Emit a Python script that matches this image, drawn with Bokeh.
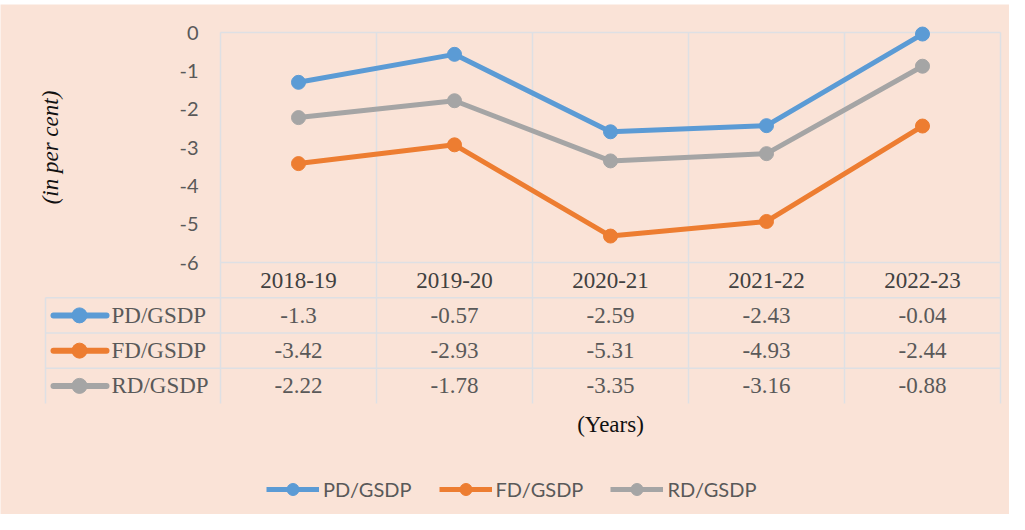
import numpy as np
from bokeh.plotting import figure
from bokeh.models import Range1d, Legend, LegendItem, ColumnDataSource
from bokeh.core.properties import value
from bokeh.embed import file_html
from bokeh.resources import INLINE

# ---- data ----
years = ["2018-19", "2019-20", "2020-21", "2021-22", "2022-23"]
series_names = ["PD/GSDP", "FD/GSDP", "RD/GSDP"]
pd_gsdp = [-1.3, -0.57, -2.59, -2.43, -0.04]
fd_gsdp = [-3.42, -2.93, -5.31, -4.93, -2.44]
rd_gsdp = [-2.22, -1.78, -3.35, -3.16, -0.88]
y_ticks = [0, -1, -2, -3, -4, -5, -6]
y_tick_labels = ["0", "-1", "-2", "-3", "-4", "-5", "-6"]

colors = ["#5B9BD5", "#ED7D31", "#A5A5A5"]
series = [pd_gsdp, fd_gsdp, rd_gsdp]

BG = "#FAE3D7"
GRID = "#DEE0E4"
TXT = "#595959"
SERIF = "Liberation Serif"
SANS = "Lato"

# ---- layout geometry (page pixels) ----
W, H = 1009, 514          # figure size, placed at page (8, 8)
TOP_WHITE = 4             # white strip above the peach area
PAGE_X0, PAGE_Y0 = 8, 8
PLOT_LEFT, PLOT_TOP, PLOT_BOTTOM = 228, 40, 270
PX_PER_CAT = 156.0
PX_PER_UNIT = (PLOT_BOTTOM - PLOT_TOP) / 6.0
ROW_PX = 35.25

frame_left = PAGE_X0
frame_right = PAGE_X0 + W
frame_top = PAGE_Y0 + TOP_WHITE
frame_bottom = PAGE_Y0 + H

def px(page_x):
    return (page_x - PLOT_LEFT) / PX_PER_CAT

x_range = Range1d(px(frame_left), px(frame_right))
y_range = Range1d(-(frame_bottom - PLOT_TOP) / PX_PER_UNIT, (PLOT_TOP - frame_top) / PX_PER_UNIT)
table_range = Range1d((frame_bottom - PLOT_BOTTOM) / ROW_PX, -(PLOT_BOTTOM - frame_top) / ROW_PX)

p = figure(width=W, height=H, output_backend="svg", toolbar_location=None,
           x_range=x_range, y_range=y_range,
           min_border_left=0, min_border_right=0, min_border_top=TOP_WHITE, min_border_bottom=0)
p.extra_y_ranges = {"table": table_range}
p.background_fill_color = BG
p.border_fill_color = "white"
p.outline_line_color = None
p.axis.visible = False
p.grid.visible = False

n = len(years)
nr = len(series_names)
xs = np.arange(n) + 0.5

# ---- chart area borders / gridlines ----
gx = list(range(0, n + 1))
p.segment(x0=gx, x1=gx, y0=[y_ticks[0]] * len(gx), y1=[y_ticks[-1]] * len(gx),
          line_color=GRID, line_width=1.5)
p.segment(x0=[0], x1=[n], y0=[y_ticks[0]], y1=[y_ticks[0]], line_color=GRID, line_width=1.5)

# y tick labels
p.text(x=[px(206)] * len(y_ticks), y=y_ticks, text=y_tick_labels, text_align="right",
       text_baseline="middle", text_font=value(SANS), text_font_size="20px", text_color=TXT)
# y axis title
p.text(x=[px(58)], y=[(y_ticks[0] + y_ticks[-1]) / 2], text=["(in per cent)"], angle=np.pi / 2,
       text_align="center", text_baseline="middle", text_font=value(SERIF),
       text_font_style="italic", text_font_size="23px", text_color="#111111")

# series
for name, vals, c in zip(series_names, series, colors):
    src = ColumnDataSource(dict(x=xs, y=vals))
    p.line("x", "y", source=src, line_color=c, line_width=5, line_join="round")
    p.scatter("x", "y", source=src, size=14, fill_color=c, line_color=c)

# ---- data table ----
xl = px(53)
hy = list(range(0, nr + 1))
p.segment(x0=[0.0] + [xl] * nr, x1=[n] * (nr + 1), y0=hy, y1=hy,
          line_color=GRID, line_width=1.5, y_range_name="table")
vx = [xl] + list(range(0, n + 1))
vy0 = [1] + [0] * (n + 1)
p.segment(x0=vx, x1=vx, y0=vy0, y1=[nr + 1] * len(vx), line_color=GRID, line_width=1.5,
          y_range_name="table")

p.text(x=xs, y=[0.5] * n, text=years, text_align="center", text_baseline="middle",
       text_font=value(SERIF), text_font_size="23px", text_color="#404040", y_range_name="table")
for r, vals in enumerate(series):
    p.text(x=xs, y=[r + 1.5] * n, text=[f"{v:g}" for v in vals],
           text_align="center", text_baseline="middle",
           text_font=value(SERIF), text_font_size="23px", text_color=TXT, y_range_name="table")

rows_y = [r + 1.5 for r in range(nr)]
p.segment(x0=[px(61)] * nr, x1=[px(114)] * nr, y0=rows_y, y1=rows_y,
          line_color=colors, line_width=6, line_cap="round", y_range_name="table")
p.scatter(x=[px(87)] * nr, y=rows_y, size=15, fill_color=colors, line_color=colors,
          y_range_name="table")
p.text(x=[px(119)] * nr, y=rows_y, text=series_names, text_align="left",
       text_baseline="middle", text_font=value(SERIF), text_font_size="23px",
       text_color=TXT, y_range_name="table")

# x axis title
p.text(x=[n / 2], y=[(432 - PLOT_BOTTOM) / ROW_PX], text=["(Years)"], text_align="center",
       text_baseline="middle", text_font=value(SERIF), text_font_size="23px",
       text_color="#111111", y_range_name="table")

# ---- bottom legend ----
items = []
for name, c in zip(series_names, colors):
    lr = p.line(x=[np.nan], y=[np.nan], line_color=c, line_width=5)
    sr = p.scatter(x=[np.nan], y=[np.nan], size=12, fill_color=c, line_color=c)
    items.append(LegendItem(label=name, renderers=[lr, sr]))
legend = Legend(items=items, orientation="horizontal",
                location=(274 - frame_left, frame_bottom - 512),
                glyph_width=53, glyph_height=30, label_standoff=4, spacing=27,
                padding=0, margin=0, border_line_color=None, background_fill_alpha=0,
                label_text_font=SANS, label_text_font_size="20px", label_text_color=TXT)
p.add_layout(legend)

open("out.html", "w").write(file_html(p, INLINE))
